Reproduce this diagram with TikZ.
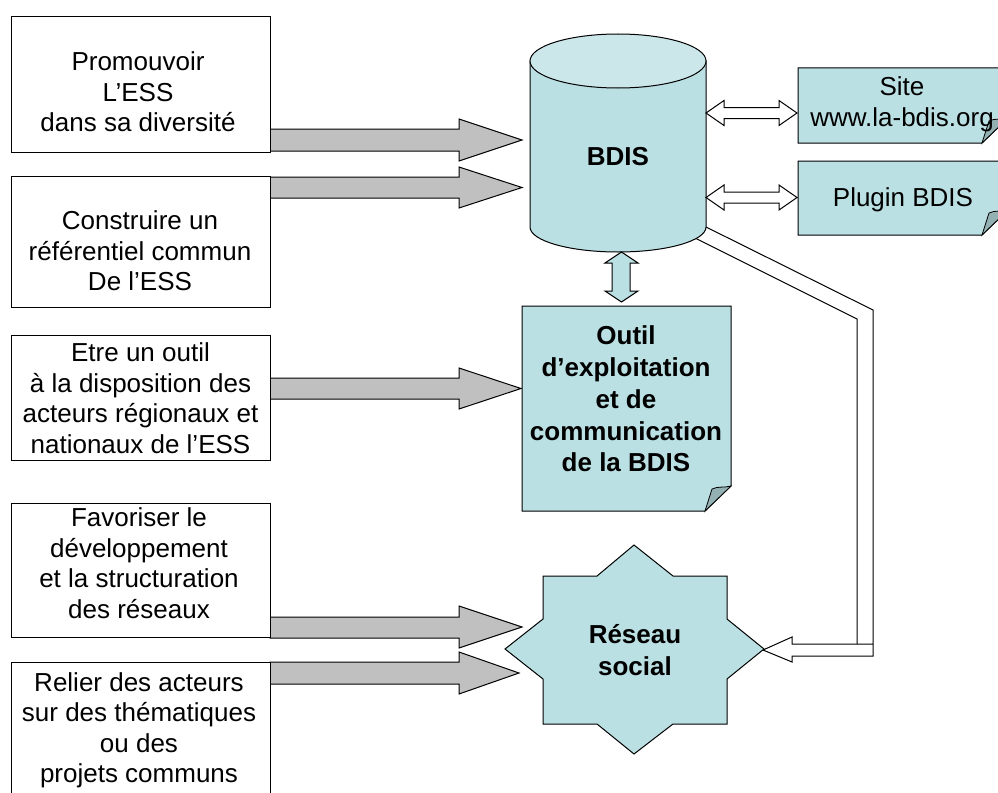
\documentclass[tikz,border=0pt]{standalone}
\usepackage{fontspec}
\setmainfont{Liberation Sans}
\definecolor{lblue}{HTML}{BBE0E3}
\definecolor{ltop}{HTML}{CBE7EA}
\definecolor{foldc}{HTML}{93B1B3}
\definecolor{garr}{HTML}{C0C0C0}
\begin{document}
\begin{tikzpicture}[x=0.75pt,y=-0.75pt,
 lbox/.style={draw=black, line width=0.75pt, fill=white, minimum width=194.25pt, inner sep=0pt},
 txt/.style={align=center, inner sep=0pt, font=\fontsize{19.5}{22.8}\selectfont},
 btxt/.style={align=center, inner sep=0pt, font=\fontsize{19.5}{23.8}\selectfont\bfseries},
 garrow/.style={draw=black, line width=0.75pt, fill=garr},
 warrow/.style={draw=black, line width=0.75pt, fill=white},
 bshape/.style={draw=black, line width=0.75pt, fill=lblue},
 foldflap/.style={draw=black, line width=0.6pt, fill=foldc},
]
\useasboundingbox (0,0) rectangle (998,792);
\clip (0,0) rectangle (998,792);

% gray block arrows
\draw[garrow] (270,129) -- (459,129) -- (459,119) -- (522,140) -- (459,161) -- (459,151) -- (270,151) -- cycle;
\draw[garrow] (270,177) -- (459,177) -- (459,167) -- (522,187.5) -- (459,208) -- (459,198) -- (270,198) -- cycle;
\draw[garrow] (270,378) -- (459,378) -- (459,368) -- (521,388.5) -- (459,409) -- (459,399) -- (270,399) -- cycle;
\draw[garrow] (270,617) -- (459,617) -- (459,606) -- (522,627) -- (459,648) -- (459,638) -- (270,638) -- cycle;
\draw[garrow] (270,662) -- (459,662) -- (459,652) -- (519,673) -- (459,694) -- (459,684) -- (270,684) -- cycle;

% left boxes
\node[lbox, minimum height=101.25pt] (b1) at (140.5,84.5) {};
\node[lbox, minimum height=98.25pt] (b2) at (140.5,241.5) {};
\node[lbox, minimum height=93.75pt] (b3) at (140.5,397.5) {};
\node[lbox, minimum height=100.5pt] (b4) at (140.5,570) {};
\node[lbox, minimum height=103.5pt] (b5) at (140.5,731) {};

\node[txt] (t1) at (138,95.3) {\strut Promouvoir\\\strut L’ESS\\\strut dans sa diversité};
\node[txt] (t2) at (140,254.3) {\strut Construire un\\\strut référentiel commun\\\strut De l’ESS};
\node[txt] (t3) at (140.5,401.5) {\strut Etre un outil\\\strut à la disposition des\\\strut acteurs régionaux et\\\strut nationaux de l’ESS};
\node[txt] (t4) at (139,566.5) {\strut Favoriser le\\\strut développement\\\strut et la structuration\\\strut des réseaux};
\node[txt] (t5) at (139,731) {\strut Relier des acteurs\\\strut sur des thématiques\\\strut ou des\\\strut projets communs};

% hollow connector BDIS -> Reseau social
\draw[warrow, fill=none] (695,238) -- (857,319) -- (857,644);
\draw[warrow, fill=none] (706,227) -- (873,310) -- (873,656) -- (792,656) -- (792,662) -- (763,650) -- (792,637) -- (792,644) -- (873,644);

% cylinder BDIS
\path[bshape] (530,61) -- (530,227)
  .. controls (530,240.8) and (569.4,252) .. (618,252)
  .. controls (666.6,252) and (706,240.8) .. (706,227) -- (706,61) -- cycle;
\path[draw=black, line width=0.75pt, fill=ltop] (530,61)
  .. controls (530,46.1) and (569.4,34) .. (618,34)
  .. controls (666.6,34) and (706,46.1) .. (706,61)
  .. controls (706,75.9) and (666.6,88) .. (618,88)
  .. controls (569.4,88) and (530,75.9) .. (530,61) -- cycle;
\node[btxt] (bdis) at (618,157) {BDIS};

% white double arrows
\draw[warrow] (706,113) -- (724,100.5) -- (724,107.5) -- (779,107.5) -- (779,100.5) -- (797,113) -- (779,125.5) -- (779,118.5) -- (724,118.5) -- (724,125.5) -- cycle;
\draw[warrow] (706,197.5) -- (724,185) -- (724,192) -- (779,192) -- (779,185) -- (797,197.5) -- (779,210) -- (779,203) -- (724,203) -- (724,210) -- cycle;

% site box
\draw[bshape] (798,68) -- (1008,68) -- (1008,118) -- (982,143) -- (798,143) -- cycle;
\draw[foldflap] (982,143) -- (989,121) .. controls (995,118) and (1001,120) .. (1008,118) -- cycle;
\node[txt] (site) at (902,105) {\strut Site\\\strut www.la-bdis.org};

% plugin box
\draw[bshape] (798,161) -- (1008,161) -- (1008,210) -- (982,235) -- (798,235) -- cycle;
\draw[foldflap] (982,235) -- (989,213) .. controls (995,210) and (1001,212) .. (1008,210) -- cycle;
\node[txt] (plugin) at (903,200) {\strut Plugin BDIS};

% vertical double arrow
\draw[bshape] (621.5,252) -- (638,263) -- (630,263) -- (630,291) -- (638,291) -- (621.5,302) -- (605,291) -- (612,291) -- (612,263) -- (605,263) -- cycle;

% outil box
\draw[bshape] (522,306) -- (731,306) -- (731,486) -- (705,511) -- (522,511) -- cycle;
\draw[foldflap] (705,511) -- (712,489) .. controls (718,486) and (724,488) .. (731,486) -- cycle;
\node[btxt] (outil) at (626,402) {\strut Outil\\\strut d’exploitation\\\strut et de\\\strut communication\\\strut de la BDIS};

% star
\draw[bshape] (634,545) -- (597,576) -- (543,576) -- (543,619) -- (505,649) -- (543,679) -- (543,724) -- (597,724) -- (634,754) -- (673,724) -- (727,724) -- (727,679) -- (764,649) -- (727,619) -- (727,576) -- (673,576) -- cycle;
\node[btxt] (rs) at (635,653.5) {\strut Réseau\\\strut social};
\end{tikzpicture}
\end{document}
